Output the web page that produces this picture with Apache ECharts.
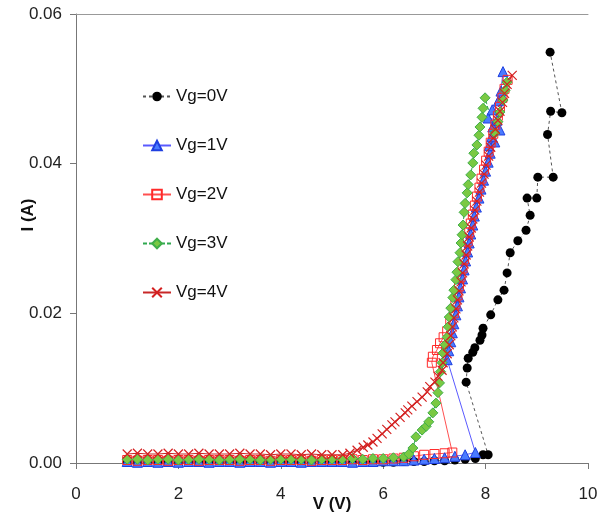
<!DOCTYPE html>
<html>
<head>
<meta charset="utf-8">
<script src="https://cdn.jsdelivr.net/npm/echarts@6/dist/echarts.min.js"></script>
<style>html,body{margin:0;padding:0;background:#fff;}#c{width:612px;height:518px;}</style>
</head>
<body>
<div id="c"></div>
<script>
// ---- data (V in volts, I in amperes) ----
const seriesNames = ['Vg=0V', 'Vg=1V', 'Vg=2V', 'Vg=3V', 'Vg=4V'];
const xTicks = [0, 2, 4, 6, 8, 10];
const yTicks = [0.00, 0.02, 0.04, 0.06];

const vg0V = [1.0,1.2,1.4,1.6,1.8,2.0,2.2,2.4,2.6,2.8,3.0,3.2,3.4,3.6,3.8,4.0,4.2,4.4,4.6,4.8,5.0,5.2,5.4,5.6,5.8,6.0,6.2,6.4,6.6,6.8,7.0,7.2,7.4,7.6,7.8,
  7.95,8.05,7.62,7.64,7.66,7.75,7.79,7.89,7.93,7.95,8.10,8.24,8.36,8.42,8.48,8.63,8.79,8.87,8.81,9.00,9.02,9.32,9.21,9.27,9.49,9.26];
const vg0I = [0.0001,0.0001,0.0001,0.0001,0.0002,0.0001,0.0001,0.0001,0.0002,0.0001,0.0001,0.0001,0.0001,0.0002,0.0001,0.0001,0.0001,0.0001,0.0001,0.0002,0.0001,0.0001,0.0001,0.0001,0.0002,0.0001,0.0001,0.0002,0.0002,0.0002,0.0003,0.0003,0.0004,0.0005,0.0006,
  0.0011,0.0011,0.0108,0.0127,0.0140,0.0148,0.0154,0.0164,0.0171,0.0180,0.0198,0.0218,0.0231,0.0254,0.0281,0.0297,0.0311,0.0331,0.0354,0.0354,0.0382,0.0382,0.0439,0.0470,0.0468,0.0549];

const vg1V = [1.0,1.2,1.4,1.6,1.8,2.0,2.2,2.4,2.6,2.8,3.0,3.2,3.4,3.6,3.8,4.0,4.2,4.4,4.6,4.8,5.0,5.2,5.4,5.6,5.8,6.0,6.2,6.4,6.6,6.8,7.0,7.2,7.4,7.6,7.8,
  7.25,7.28,7.32,7.35,7.38,7.42,7.45,7.48,7.51,7.55,7.58,7.61,7.65,7.68,7.71,7.75,7.78,7.82,7.87,7.91,7.96,8.00,8.05,8.09,8.18,8.07,8.28,8.12,8.14,8.22,8.05,8.13,8.25,8.30,8.34];
const vg1I = [0.0002,0.0001,0.0002,0.0001,0.0002,0.0001,0.0002,0.0002,0.0001,0.0002,0.0002,0.0001,0.0002,0.0002,0.0001,0.0002,0.0002,0.0001,0.0002,0.0002,0.0002,0.0002,0.0001,0.0002,0.0002,0.0003,0.0003,0.0003,0.0004,0.0005,0.0006,0.0007,0.0009,0.0011,0.0014,
  0.0138,0.0150,0.0162,0.0174,0.0186,0.0198,0.0210,0.0222,0.0234,0.0246,0.0258,0.0270,0.0282,0.0294,0.0306,0.0318,0.0330,0.0342,0.0354,0.0366,0.0378,0.0390,0.0402,0.0414,0.0429,0.0424,0.0445,0.0436,0.0449,0.0458,0.0461,0.0472,0.0484,0.0497,0.0523];

const vg2V = [1.0,1.2,1.4,1.6,1.8,2.0,2.2,2.4,2.6,2.8,3.0,3.2,3.4,3.6,3.8,4.0,4.2,4.4,4.6,4.8,5.0,5.2,5.4,5.6,5.8,6.0,6.2,6.4,6.6,6.8,7.0,7.2,7.35,
  6.95,6.97,7.05,7.11,7.18,7.25,7.31,7.38,7.41,7.45,7.48,7.51,7.55,7.58,7.61,7.65,7.68,7.71,7.75,7.79,7.83,7.88,7.92,7.97,8.01,8.06,8.10,8.15,8.19,8.24,8.28,8.33,8.37,8.43];
const vg2I = [0.0004,0.0003,0.0004,0.0004,0.0003,0.0004,0.0004,0.0003,0.0004,0.0004,0.0004,0.0003,0.0004,0.0004,0.0003,0.0004,0.0004,0.0004,0.0003,0.0004,0.0004,0.0004,0.0005,0.0004,0.0005,0.0005,0.0006,0.0007,0.0009,0.0011,0.0012,0.0013,0.0014,
  0.0134,0.0142,0.0151,0.0160,0.0168,0.0176,0.0188,0.0200,0.0212,0.0224,0.0236,0.0248,0.0260,0.0272,0.0284,0.0296,0.0308,0.0320,0.0332,0.0344,0.0356,0.0368,0.0380,0.0392,0.0404,0.0416,0.0428,0.0440,0.0452,0.0464,0.0476,0.0488,0.0500,0.0512];

const vg3V = [1.0,1.2,1.4,1.6,1.8,2.0,2.2,2.4,2.6,2.8,3.0,3.2,3.4,3.6,3.8,4.0,4.2,4.4,4.6,4.8,5.0,5.2,5.4,5.6,5.8,6.0,6.2,6.4,
  6.50,6.58,6.64,6.76,6.84,6.89,6.97,7.03,7.07,7.10,7.12,7.15,7.17,7.21,7.25,7.27,7.29,7.32,7.36,7.38,7.42,7.44,7.46,7.50,7.52,7.54,7.56,7.58,7.60,7.64,7.66,7.71,7.75,7.77,7.83,7.87,7.89,7.93,7.95,7.99,
  8.18,8.24,8.28,8.34,8.38,8.42];
const vg3I = [0.0005,0.0005,0.0004,0.0005,0.0005,0.0004,0.0005,0.0005,0.0005,0.0004,0.0005,0.0005,0.0005,0.0004,0.0005,0.0005,0.0005,0.0005,0.0004,0.0005,0.0005,0.0005,0.0006,0.0005,0.0006,0.0006,0.0007,0.0008,
  0.0012,0.0020,0.0035,0.0044,0.0049,0.0055,0.0067,0.0080,0.0094,0.0107,0.0122,0.0134,0.0147,0.0158,0.0168,0.0182,0.0195,0.0207,0.0221,0.0231,0.0245,0.0255,0.0269,0.0281,0.0294,0.0305,0.0318,0.0335,0.0347,0.0361,0.0372,0.0385,0.0401,0.0414,0.0425,0.0438,0.0449,0.0462,0.0474,0.0488,
  0.0441,0.0456,0.0469,0.0485,0.0498,0.0509];

const vg4V = [1.0,1.2,1.4,1.6,1.8,2.0,2.2,2.4,2.6,2.8,3.0,3.2,3.4,3.6,3.8,4.0,4.2,4.4,4.6,4.8,5.0,
  5.21,5.35,5.49,5.61,5.70,5.80,5.88,5.98,6.07,6.17,6.23,6.33,6.43,6.48,6.56,6.66,6.76,6.86,6.91,7.01,7.07,7.15,7.17,
  7.25,7.29,7.32,7.35,7.38,7.42,7.45,7.48,7.52,7.55,7.58,7.62,7.65,7.68,7.72,7.75,7.79,7.83,7.88,7.92,7.97,8.01,8.06,8.10,8.15,8.19,8.24,8.28,8.33,8.37,8.42,8.52];
const vg4I = [0.0012,0.0013,0.0012,0.0012,0.0013,0.0012,0.0012,0.0013,0.0012,0.0012,0.0012,0.0013,0.0012,0.0012,0.0011,0.0012,0.0012,0.0011,0.0012,0.0011,0.0011,
  0.0011,0.0013,0.0017,0.0021,0.0024,0.0028,0.0033,0.0039,0.0045,0.0051,0.0055,0.0061,0.0067,0.0071,0.0076,0.0082,0.0088,0.0095,0.0102,0.0108,0.0116,0.0124,0.0134,
  0.0146,0.0158,0.0170,0.0182,0.0194,0.0206,0.0218,0.0230,0.0242,0.0254,0.0266,0.0278,0.0290,0.0302,0.0314,0.0326,0.0338,0.0350,0.0362,0.0374,0.0386,0.0398,0.0410,0.0422,0.0434,0.0446,0.0458,0.0470,0.0482,0.0494,0.0506,0.0518];

// ---- build ----
const pairs = (xs, ys) => xs.map((x, i) => [x, ys[i]]);
const FONT = '"Liberation Sans", Arial, sans-serif';
const chart = echarts.init(document.getElementById('c'), null, {renderer: 'canvas'});

const xShape = 'path://M0 0L10 10M10 0L0 10';

chart.setOption({
  animation: false,
  backgroundColor: '#fff',
  textStyle: {fontFamily: FONT},
  grid: {left: 76, right: 24, top: 14, bottom: 55, containLabel: false, outerBoundsMode: 'none'},
  legend: {
    orient: 'vertical', left: 142, top: 88, padding: 0,
    itemWidth: 28, itemHeight: 12, itemGap: 32,
    textStyle: {fontSize: 17, color: '#111', fontFamily: FONT},
    data: seriesNames
  },
  xAxis: [{
    type: 'value', min: xTicks[0], max: xTicks[xTicks.length - 1], interval: 2,
    name: 'V (V)', nameLocation: 'middle', nameGap: 33, nameMoveOverlap: false,
    nameTextStyle: {fontSize: 17, fontWeight: 'bold', color: '#111', fontFamily: FONT},
    axisLine: {show: true, lineStyle: {color: '#777', width: 1}},
    axisTick: {show: true, inside: false, length: 6, lineStyle: {color: '#777'}},
    axisLabel: {fontSize: 17, color: '#222', margin: 23, fontFamily: FONT},
    splitLine: {show: false}
  }, {
    type: 'value', position: 'top', min: 0, max: 10,
    axisLine: {show: true, lineStyle: {color: '#999', width: 1}},
    axisTick: {show: false}, axisLabel: {show: false}, splitLine: {show: false}
  }],
  yAxis: {
    type: 'value', min: yTicks[0], max: yTicks[yTicks.length - 1], interval: 0.02,
    axisLine: {show: true, onZero: false, lineStyle: {color: '#777', width: 1}},
    axisTick: {show: true, inside: false, length: 6, lineStyle: {color: '#777'}},
    axisLabel: {fontSize: 17, color: '#222', margin: 14, fontFamily: FONT, formatter: v => v.toFixed(2)},
    splitLine: {show: false}
  },
  graphic: [{
    type: 'text', x: 28, y: 215, rotation: Math.PI / 2,
    style: {text: 'I (A)', font: 'bold 17px ' + FONT, fill: '#111', align: 'center', verticalAlign: 'middle'}
  }],
  series: [
    {
      name: seriesNames[0], type: 'line', data: pairs(vg0V, vg0I),
      symbol: 'circle', symbolSize: 9,
      itemStyle: {color: '#000'},
      lineStyle: {color: '#555', width: 1, type: [3, 3]}
    },
    {
      name: seriesNames[1], type: 'line', data: pairs(vg1V, vg1I),
      symbol: 'triangle', symbolSize: 10,
      itemStyle: {color: '#4a7bff', borderColor: '#1f3fe0', borderWidth: 1},
      lineStyle: {color: '#5a5aff', width: 1}
    },
    {
      name: seriesNames[2], type: 'line', data: pairs(vg2V, vg2I),
      symbol: 'rect', symbolSize: 9,
      itemStyle: {color: 'rgba(255,255,255,0)', borderColor: '#ff2a2a', borderWidth: 1},
      lineStyle: {color: '#ff5050', width: 1}
    },
    {
      name: seriesNames[3], type: 'line', data: pairs(vg3V, vg3I),
      symbol: 'diamond', symbolSize: 10,
      itemStyle: {color: '#7ac943', borderColor: '#3fae49', borderWidth: 1},
      lineStyle: {color: '#2fa84f', width: 1, type: [4, 2]}
    },
    {
      name: seriesNames[4], type: 'line', data: pairs(vg4V, vg4I),
      symbol: xShape, symbolSize: 9,
      itemStyle: {color: 'rgba(255,255,255,0)', borderColor: '#d42020', borderWidth: 1.2},
      lineStyle: {color: '#c82828', width: 1.2}
    }
  ]
});
</script>
</body>
</html>
